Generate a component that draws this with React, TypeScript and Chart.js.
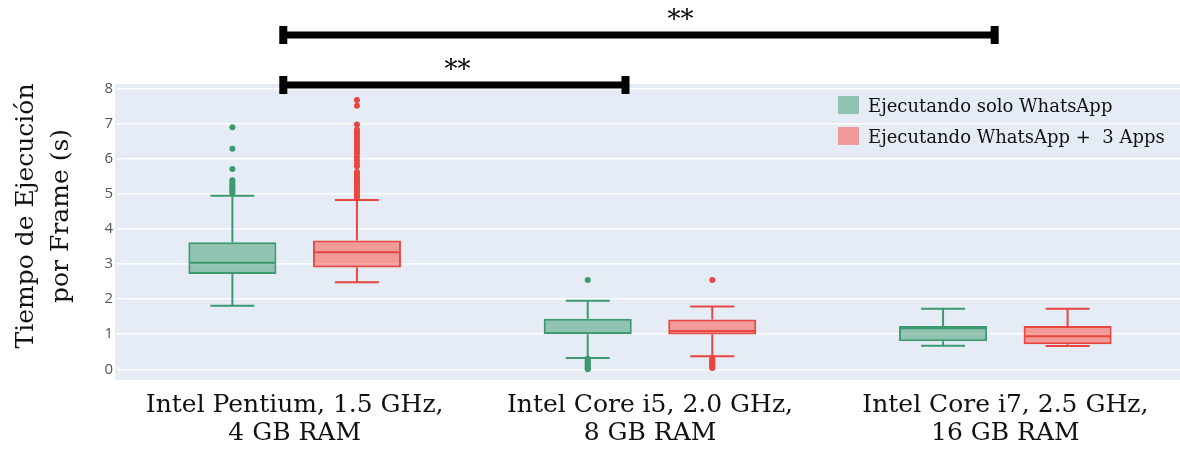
import React, { useEffect, useRef } from "react";
import { Chart, registerables } from "chart.js";

Chart.register(...registerables);

// ---------- DATA ----------
const categories: string[][] = [
  ["Intel Pentium, 1.5 GHz,", "4 GB RAM"],
  ["Intel Core i5, 2.0 GHz,", "8 GB RAM"],
  ["Intel Core i7, 2.5 GHz,", "16 GB RAM"],
];
const seriesNames = ["Ejecutando solo WhatsApp", "Ejecutando WhatsApp +  3 Apps"];

const soloMin = [1.81, 0.32, 0.67];
const soloQ1 = [2.71, 1.0, 0.8];
const soloMedian = [3.03, 1.03, 1.17];
const soloQ3 = [3.62, 1.44, 1.23];
const soloMax = [4.94, 1.95, 1.72];
const soloOutliers: number[][] = [
  [6.89, 6.28, 5.7, 5.38, 5.32, 5.25, 5.2, 5.15, 5.1, 5.05, 5.02],
  [2.54, 0.3, 0.26, 0.22, 0.18, 0.14, 0.1, 0.07, 0.04, 0.02, 0.0],
  [],
];

const appsMin = [2.48, 0.37, 0.66];
const appsQ1 = [2.9, 0.99, 0.71];
const appsMedian = [3.33, 1.09, 0.94];
const appsQ3 = [3.67, 1.42, 1.23];
const appsMax = [4.82, 1.79, 1.72];
const appsOutliers: number[][] = [
  [7.67, 7.5, 6.97, 6.82, 6.75, 6.68, 6.6, 6.52, 6.45, 6.38, 6.3, 6.22, 6.15, 6.05, 5.95, 5.85, 5.78,
    5.62, 5.56, 5.5, 5.44, 5.38, 5.32, 5.26, 5.2, 5.14, 5.08, 5.02, 4.96, 4.9],
  [2.54, 0.33, 0.28, 0.24, 0.2, 0.16, 0.12, 0.09, 0.06, 0.04],
  [],
];

const yTicks = [0, 1, 2, 3, 4, 5, 6, 7, 8];
const yTitleLines = ["Tiempo de Ejecución", "por Frame (s)"];

// significance brackets (in category-index units / y values)
const sigFrom = [-0.032, -0.032];
const sigTo = [0.931, 1.97];
const sigLevel = [8.094, 9.517];
const sigLabelPos = [0.458, 1.086];
const sigLabels = ["**", "**"];

// ---------- STYLE ----------
const lineColors = ["#3D9970", "#E8463E"];
const fillColors = ["rgba(61,153,112,0.5)", "rgba(252,72,62,0.5)"];
const plotBg = "#E5ECF6";
const serif = "'DejaVu Serif', serif";

const stats = [
  { min: soloMin, q1: soloQ1, med: soloMedian, q3: soloQ3, max: soloMax, out: soloOutliers },
  { min: appsMin, q1: appsQ1, med: appsMedian, q3: appsQ3, max: appsMax, out: appsOutliers },
];

const bgPlugin = {
  id: "plotBg",
  beforeDraw(chart: any) {
    const { ctx, chartArea } = chart;
    ctx.save();
    ctx.fillStyle = plotBg;
    ctx.fillRect(chartArea.left - 2, chartArea.top, chartArea.right - chartArea.left + 2, chartArea.bottom - chartArea.top);
    ctx.restore();
  },
};

const boxPlugin = {
  id: "boxExtras",
  afterDatasetsDraw(chart: any) {
    const { ctx } = chart;
    const y = chart.scales.y;
    stats.forEach((s, d) => {
      const meta = chart.getDatasetMeta(d);
      meta.data.forEach((el: any, i: number) => {
        const x = el.x;
        const w = el.width;
        ctx.save();
        ctx.strokeStyle = lineColors[d];
        ctx.lineWidth = 2;
        // whiskers
        ctx.beginPath();
        ctx.moveTo(x, y.getPixelForValue(s.q3[i]));
        ctx.lineTo(x, y.getPixelForValue(s.max[i]));
        ctx.moveTo(x, y.getPixelForValue(s.q1[i]));
        ctx.lineTo(x, y.getPixelForValue(s.min[i]));
        ctx.moveTo(x - w / 4, y.getPixelForValue(s.max[i]));
        ctx.lineTo(x + w / 4, y.getPixelForValue(s.max[i]));
        ctx.moveTo(x - w / 4, y.getPixelForValue(s.min[i]));
        ctx.lineTo(x + w / 4, y.getPixelForValue(s.min[i]));
        // median
        ctx.moveTo(x - w / 2 + 1, y.getPixelForValue(s.med[i]));
        ctx.lineTo(x + w / 2 - 1, y.getPixelForValue(s.med[i]));
        ctx.stroke();
        // outliers
        ctx.fillStyle = lineColors[d];
        s.out[i].forEach((v) => {
          ctx.beginPath();
          ctx.arc(x, y.getPixelForValue(v), 3, 0, Math.PI * 2);
          ctx.fill();
        });
        ctx.restore();
      });
    });
  },
};

const decorPlugin = {
  id: "decor",
  afterDraw(chart: any) {
    const { ctx, chartArea } = chart;
    const xs = chart.scales.x;
    const ys = chart.scales.y;
    ctx.save();
    // y-axis title
    ctx.fillStyle = "#111";
    ctx.font = `25px ${serif}`;
    ctx.textAlign = "center";
    ctx.textBaseline = "alphabetic";
    const cy = 216;
    yTitleLines.forEach((t, k) => {
      ctx.save();
      ctx.translate(33 + k * 35, cy);
      ctx.rotate(-Math.PI / 2);
      ctx.fillText(t, 0, 0);
      ctx.restore();
    });
    // legend
    const lx = chartArea.right - 345;
    ctx.font = `18px ${serif}`;
    ctx.textAlign = "left";
    chart.data.datasets.forEach((ds: any, k: number) => {
      const top = 96 + k * 31;
      ctx.fillStyle = fillColors[k];
      ctx.fillRect(lx, top, 21, 18);
      ctx.fillStyle = "#111";
      ctx.fillText(ds.label, lx + 30, top + 15.5);
    });
    // significance brackets
    ctx.fillStyle = "#000";
    ctx.strokeStyle = "#000";
    sigFrom.forEach((f, k) => {
      const x1 = xs.getPixelForValue(f);
      const x2 = xs.getPixelForValue(sigTo[k]);
      const yy = ys.getPixelForValue(sigLevel[k]);
      ctx.fillRect(x1, yy - 3.5, x2 - x1, 7);
      ctx.fillRect(x1 - 4, yy - 9, 8, 18);
      ctx.fillRect(x2 - 4, yy - 9, 8, 18);
      ctx.font = `26px ${serif}`;
      ctx.textAlign = "center";
      ctx.fillText(sigLabels[k], xs.getPixelForValue(sigLabelPos[k]), yy - 7);
    });
    ctx.restore();
  },
};

export default function App() {
  const ref = useRef<HTMLCanvasElement | null>(null);
  useEffect(() => {
    if (!ref.current) return;
    const chart = new Chart(ref.current, {
      type: "bar",
      data: {
        labels: categories,
        datasets: stats.map((s, d) => ({
          label: seriesNames[d],
          data: s.q1.map((q, i) => [q, s.q3[i]]),
          backgroundColor: fillColors[d],
          borderColor: lineColors[d],
          borderWidth: 2,
          borderSkipped: false,
          categoryPercentage: 0.701,
          barPercentage: 0.707,
        })) as any,
      },
      options: {
        animation: false,
        responsive: false,
        layout: { padding: { top: 84, left: 0, right: 0, bottom: 0 } },
        plugins: { legend: { display: false }, tooltip: { enabled: false } },
        scales: {
          x: {
            grid: { display: false, drawTicks: false },
            border: { display: false },
            ticks: {
              font: { family: serif, size: 25, lineHeight: 1.12 },
              color: "#111",
              padding: 11,
              maxRotation: 0,
              autoSkip: false,
            },
            afterFit: (s: any) => {
              s.height = 69;
            },
          },
          y: {
            min: -0.305,
            max: 8.122,
            grid: { color: "#ffffff", lineWidth: 1.5, drawTicks: false },
            border: { display: false },
            ticks: {
              font: { family: "'Open Sans', sans-serif", size: 15 },
              color: "#555",
              padding: 4,
            },
            afterBuildTicks: (s: any) => {
              s.ticks = yTicks.map((v) => ({ value: v }));
            },
            afterFit: (s: any) => {
              s.width = 117;
            },
          },
        },
      },
      plugins: [bgPlugin, boxPlugin, decorPlugin],
    });
    return () => chart.destroy();
  }, []);
  return (
    <div style={{ position: "fixed", left: 0, top: 0, width: 1180, height: 449, overflow: "hidden", background: "#fff" }}>
      <canvas ref={ref} width={1183} height={449} style={{ display: "block", width: 1183, height: 449 }} />
    </div>
  );
}
